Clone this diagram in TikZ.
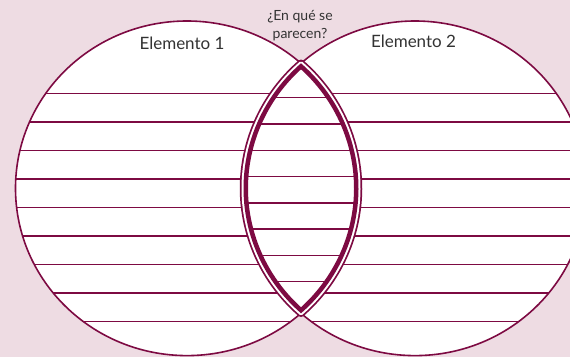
\documentclass[tikz,border=0pt]{standalone}
\usepackage{fontspec}
\setmainfont{Lato}
\definecolor{maroon}{RGB}{125,10,66}
\definecolor{bgpink}{RGB}{238,220,227}
\begin{document}
\begin{tikzpicture}[x=1pt,y=1pt,
  thinrule/.style={draw=maroon,line width=1.4pt},
  outline/.style={draw=maroon,line width=1.6pt},
  bigtext/.style={font=\fontsize{17}{20}\selectfont,text=black!80,anchor=base,inner sep=0pt},
  smalltext/.style={font=\fontsize{14}{16}\selectfont,text=black!80,anchor=base,inner sep=0pt}]
\def\ellL{(187,168.7) ellipse[x radius=171.5pt, y radius=167.3pt]}
\def\ellR{(415,168.7) ellipse[x radius=171.5pt, y radius=167.3pt]}
\def\lens{(301,293.7) arc[start angle=48.34, end angle=-48.34, x radius=171.5pt, y radius=167.3pt]
  arc[start angle=228.34, end angle=131.66, x radius=171.5pt, y radius=167.3pt] -- cycle}
% background
\fill[bgpink] (0,0) rectangle (570,357);
\useasboundingbox (0,0) rectangle (570,357);
% circles
\fill[white] \ellL;
\fill[white] \ellR;
\begin{scope}
  \clip \ellL \ellR;
  \foreach \k in {0,...,8} {
    \draw[thinrule] (0,{357-93.3-28.55*\k}) -- (570,{357-93.3-28.55*\k});
  }
\end{scope}
\draw[outline] \ellL;
\draw[outline] \ellR;
% lens
\fill[white] \lens;
\begin{scope}
  \clip \lens;
  \foreach \k in {0,...,7} {
    \draw[thinrule] (200,{357-97.7-26.29*\k}) -- (400,{357-97.7-26.29*\k});
  }
\end{scope}
\draw[maroon,line width=7.5pt,line join=round] \lens;
\draw[white,line width=4pt,line join=round] \lens;
\begin{scope}
  \clip \lens;
  \draw[maroon,line width=9pt,line join=round] \lens;
\end{scope}
% texts
\node[bigtext] (e1) at (182,307) {Elemento 1};
\node[bigtext] (e2) at (413.5,309.3) {Elemento 2};
\node[smalltext] (q1) at (300,336.5) {¿En qué se};
\node[smalltext] (q2) at (300,318) {parecen?};
\end{tikzpicture}
\end{document}
